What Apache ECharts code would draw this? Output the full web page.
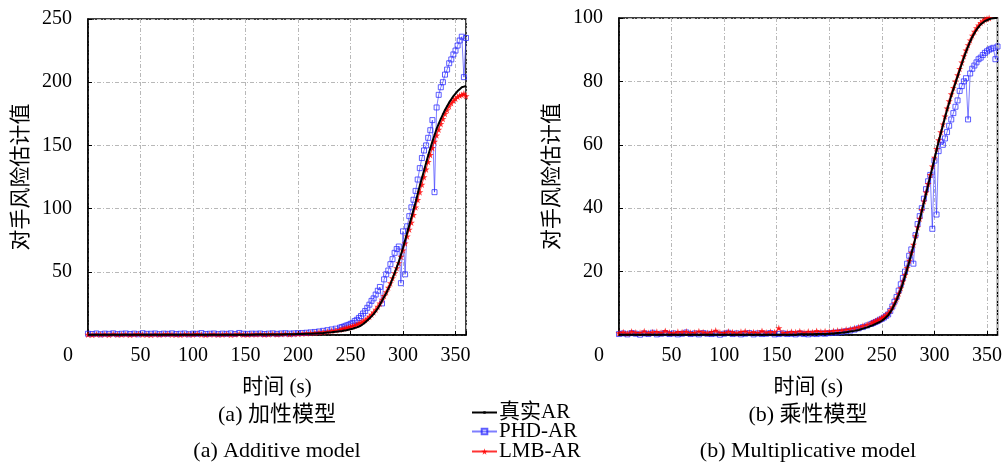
<!DOCTYPE html>
<html><head><meta charset="utf-8">
<script src="https://cdn.jsdelivr.net/npm/echarts@6/dist/echarts.min.js"></script>
<style>html,body{margin:0;padding:0;background:#fff}#c{width:1005px;height:462px}</style>
</head><body><div id="c"></div>
<script>
// time samples (s): every 4 s in the flat part, every 2 s from 240 s on
const times = [0,4,8,12,16,20,24,28,32,36,40,44,48,52,56,60,64,68,72,76,80,84,88,92,96,100,104,108,112,116,120,124,128,132,136,140,144,148,152,156,
160,164,168,172,176,180,184,188,192,196,200,204,208,212,216,220,224,228,232,236,
240,242,244,246,248,250,252,254,256,258,260,262,264,266,268,270,272,274,276,278,
280,282,284,286,288,290,292,294,296,298,300,302,304,306,308,310,312,314,316,318,
320,322,324,326,328,330,332,334,336,338,340,342,344,346,348,350,352,354,356,358,360];

// (a) Additive model
const trueA = [0.2,0.2,0.2,0.2,0.2,0.2,0.2,0.2,0.2,0.2,0.2,0.2,0.2,0.2,0.2,0.2,0.2,0.2,0.2,0.2,0.2,0.2,0.2,0.2,0.2,0.2,0.2,0.2,0.2,0.2,0.2,0.2,0.2,0.2,0.2,0.2,0.2,0.2,0.2,0.2,
0.3,0.3,0.3,0.3,0.4,0.4,0.4,0.5,0.5,0.6,0.7,0.8,0.9,1.0,1.2,1.4,1.6,1.9,2.2,2.6,
3.0,3.2,3.5,3.8,4.2,4.6,5.0,5.5,6.0,6.7,7.5,8.7,10,11.5,13,14.7,16.5,18.7,21,24,
27,30,33,36.5,40,44.5,49,53.5,58,63.5,69,75,81,87,93,99,105,111.5,118,124,
130,136,142,147.5,153,158,163,167,171,174.5,178,181,184,186.5,189,191,193,194.5,196,196.5,197];
const phdA = [1.0,0.8,1.2,0.6,1.1,0.9,1.3,0.7,1.0,1.2,0.8,1.1,0.6,1.4,0.9,1.0,1.2,0.7,1.1,0.9,1.3,0.8,1.0,1.2,0.6,1.1,0.9,1.5,0.8,1.0,1.2,0.7,1.1,0.9,1.3,0.8,1.6,1.0,0.9,1.1,
1.0,1.2,0.8,1.1,1.3,0.9,1.2,1.4,1.1,1.3,1.5,1.6,1.8,2.1,2.4,2.8,3.3,3.8,4.4,5.0,
5.8,6.3,6.8,7.5,8.0,8.8,9.5,11,12,13.5,15,17,19,21.5,24,27,29,32,35,38,
25,44,48,51,56,60,65,68,70,41,82,48,86,94,101,107,114,123,132,140,
146,150,156,162,170,113,180,190,196,200,206,210,215,218,222,225,229,233,236,204,235];
const lmbA = [0.4,0.2,0.6,0.3,0.5,0.1,0.7,0.3,0.4,0.6,0.2,0.5,0.8,0.3,0.4,0.2,0.6,0.3,0.5,0.7,0.3,0.4,0.2,0.6,0.5,0.3,0.9,0.4,0.2,0.5,0.6,0.3,0.4,0.7,0.2,0.5,0.8,0.4,0.3,0.6,
0.5,0.7,0.4,0.6,0.8,0.5,0.7,0.9,0.6,0.8,1.0,1.1,1.3,1.5,1.8,2.1,2.4,2.8,3.3,3.8,
4.4,4.7,5.1,5.5,6.0,6.5,7.0,7.6,8.2,9.0,9.8,10.8,11.8,13.1,14.5,16.2,18,20.2,22.5,25,
28,31,34,37.5,41,45,49,53,57,62,67,72.5,78,83.5,89,95,101,107,113,119,
125,131,137,142.5,148,153,158,162.5,167,171,175,178,181,183.5,185.5,187,188.5,189.5,190,191,189];

// (b) Multiplicative model
const trueB = [0.1,0.1,0.1,0.1,0.1,0.1,0.1,0.1,0.1,0.1,0.1,0.1,0.1,0.1,0.1,0.1,0.1,0.1,0.1,0.1,0.1,0.1,0.1,0.1,0.1,0.1,0.1,0.1,0.1,0.1,0.1,0.1,0.1,0.1,0.1,0.1,0.1,0.1,0.1,0.1,
0.1,0.1,0.1,0.2,0.2,0.2,0.2,0.3,0.3,0.3,0.4,0.5,0.6,0.7,0.9,1.1,1.3,1.6,2.0,2.4,
2.9,3.2,3.5,3.8,4.1,4.5,5.0,5.6,6.2,7.2,8.3,9.6,11,12.6,14.3,16.3,18.5,20.7,23,25.5,
28,30.7,33.5,36.2,39,41.7,44.5,47.2,50,52.7,55.5,58.2,61,63.5,66,68.5,71,73.2,75.5,77.5,
79.5,81.5,83.5,85.5,87.5,89.3,91,92.6,94,95.2,96.3,97.2,98,98.5,99,99.3,99.6,99.8,99.9,100,100];
const phdB = [0.3,0.5,0.2,0.6,0.4,0.1,0.5,0.3,0.7,0.2,0.4,0.6,0.3,0.5,0.2,0.4,0.8,0.3,0.5,0.2,0.6,0.4,0.3,0.5,0.1,0.4,0.7,0.3,0.5,0.2,0.4,0.6,0.2,0.5,0.3,0.4,0.6,0.2,0.3,0.5,
0.3,0.4,0.2,0.5,0.3,0.2,0.4,0.3,0.5,0.4,0.6,0.7,0.8,1.0,1.2,1.4,1.7,2.1,2.5,3.0,
3.5,3.8,4.1,4.4,4.8,5.1,5.5,6.0,6.5,7.6,9,10.5,12,14,16,18,20,22.5,25,27,
22.5,31.5,35,37.5,40,43,46,48.5,50.5,33.5,55,38,58,61,60,62,64,66,68,70,
72,74,77,78.5,80,81,68,82.5,84,85,86,87,87.5,88.3,89,89.5,90,90.3,90.6,87,91];
const lmbB = [0.6,0.9,0.5,1.1,0.8,0.7,1.2,0.6,0.9,1.0,0.7,1.3,0.8,0.6,1.0,0.9,1.1,0.7,0.8,1.2,0.9,0.6,1.0,1.4,0.8,0.7,1.1,0.9,0.6,1.0,1.2,0.8,0.9,0.7,1.3,0.8,1.0,0.9,2.2,0.7,
0.8,1.0,0.9,1.2,0.8,1.1,0.9,1.3,1.0,1.2,1.1,1.3,1.4,1.5,1.7,1.9,2.2,2.5,2.9,3.3,
3.8,4.1,4.4,4.7,5.0,5.4,5.8,6.3,6.9,7.8,8.8,10.1,11.5,13.1,14.8,16.9,19,21.2,23.5,26,
28.5,31.2,34,36.7,39.5,42.2,45,47.7,50.5,53.2,56,58.7,61.5,64,66.5,69,71.5,73.8,76,78,
80,82,84,86,88,89.8,91.5,93,94.5,95.7,96.8,97.7,98.5,99,99.5,99.8,100,100.1,100.2,100.3,100.1];

const seriesNames = ['真实AR','PHD-AR','LMB-AR'];
const xLabel = '时间 (s)';
const yLabel = '对手风险估计值';
const captions = [['(a) 加性模型','(a) Additive model'],['(b) 乘性模型','(b) Multiplicative model']];
const xRange = [0, 360], xStep = 50;
const yRanges = [[0, 250, 50], [0, 100, 20]];

const FONT = '"Liberation Serif", "Noto Sans CJK SC", serif';
const STAR = 'path://M50,0 L61,35 L98,35 L68,57 L79,91 L50,70 L21,91 L32,57 L2,35 L39,35 Z';
const pair = arr => times.map((t, i) => [t, arr[i]]);

function xAxis(g) {
  return {
    type: 'value', gridIndex: g, min: xRange[0], max: xRange[1], interval: xStep,
    name: xLabel, nameLocation: 'middle', nameGap: 42,
    nameTextStyle: {fontSize: 21, color: '#000', fontFamily: FONT},
    axisLine: {show: true, onZero: false, lineStyle: {color: '#000', width: 1.5}},
    axisTick: {show: true, inside: true, length: 4, lineStyle: {color: '#000'}},
    axisLabel: {
      margin: 11, fontSize: 20, color: '#000', fontFamily: FONT,
      formatter: v => v === 0 ? '{z|0}' : (v >= xRange[1] ? '' : String(v)),
      rich: {z: {padding: [0, 40, 0, 0], fontSize: 20, color: '#000', fontFamily: FONT}}
    },
    splitLine: {show: true, lineStyle: {color: '#b8b8b8', type: [4, 2, 1, 2], width: 1}}
  };
}
function yAxis(g) {
  const r = yRanges[g];
  return {
    type: 'value', gridIndex: g, min: r[0], max: r[1], interval: r[2],
    name: yLabel, nameLocation: 'middle', nameGap: 56,
    nameTextStyle: {fontSize: 21, color: '#000', fontFamily: FONT},
    axisLine: {show: true, onZero: false, lineStyle: {color: '#000', width: 1.5}},
    axisTick: {show: true, inside: true, length: 4, lineStyle: {color: '#000'}},
    axisLabel: {margin: 16, fontSize: 20, color: '#000', fontFamily: FONT,
      formatter: v => v === 0 ? '' : String(v)},
    splitLine: {show: true, lineStyle: {color: '#b8b8b8', type: [4, 2, 1, 2], width: 1}}
  };
}
function mk(g, t, p, l) {
  return [
    {type: 'line', name: seriesNames[1], xAxisIndex: g, yAxisIndex: g, data: pair(p),
     symbol: 'rect', symbolSize: 5, showSymbol: true, z: 3,
     itemStyle: {color: 'rgba(0,0,0,0)', borderColor: 'rgba(40,40,255,0.75)', borderWidth: 1},
     lineStyle: {color: 'rgba(40,40,255,0.6)', width: 1}},
    {type: 'line', name: seriesNames[2], xAxisIndex: g, yAxisIndex: g, data: pair(l),
     symbol: STAR, symbolSize: 7, showSymbol: true, z: 4,
     itemStyle: {color: 'rgba(255,0,0,0.8)'},
     lineStyle: {color: 'rgba(255,0,0,0.8)', width: 1}},
    {type: 'line', name: seriesNames[0], xAxisIndex: g, yAxisIndex: g, data: pair(t),
     symbol: 'rect', showSymbol: false, z: 5,
     itemStyle: {color: '#000'}, lineStyle: {color: '#000', width: 2}}
  ];
}
function leg(i, top, ih) {
  return {
    orient: 'vertical', left: 471, top: top, itemWidth: 25, itemHeight: ih, itemGap: 0,
    padding: 0, data: [seriesNames[i]],
    textStyle: {fontSize: 21, color: '#000', fontFamily: FONT, padding: [0, 0, 0, -3]}
  };
}

const chart = echarts.init(document.getElementById('c'), null, {renderer: 'canvas'});
chart.setOption({
  animation: false,
  backgroundColor: '#fff',
  grid: [
    {left: 88, top: 19, width: 378, height: 316, show: true, borderColor: '#000', borderWidth: 1.5, backgroundColor: 'transparent'},
    {left: 619, top: 18, width: 379, height: 317, show: true, borderColor: '#000', borderWidth: 1.5, backgroundColor: 'transparent'}
  ],
  xAxis: [xAxis(0), xAxis(1)],
  yAxis: [yAxis(0), yAxis(1)],
  legend: [leg(0, 402, 3), leg(1, 421, 7), leg(2, 441, 8)],
  series: [...mk(0, trueA, phdA, lmbA), ...mk(1, trueB, phdB, lmbB)],
  graphic: [
    {type: 'text', x: 277, y: 415, style: {text: captions[0][0], fontSize: 22, fontFamily: FONT, fill: '#000', align: 'center', verticalAlign: 'middle'}},
    {type: 'text', x: 277, y: 451, style: {text: captions[0][1], fontSize: 22, fontFamily: FONT, fill: '#000', align: 'center', verticalAlign: 'middle'}},
    {type: 'text', x: 808, y: 415, style: {text: captions[1][0], fontSize: 22, fontFamily: FONT, fill: '#000', align: 'center', verticalAlign: 'middle'}},
    {type: 'text', x: 808, y: 451, style: {text: captions[1][1], fontSize: 22, fontFamily: FONT, fill: '#000', align: 'center', verticalAlign: 'middle'}}
  ]
});
</script></body></html>
